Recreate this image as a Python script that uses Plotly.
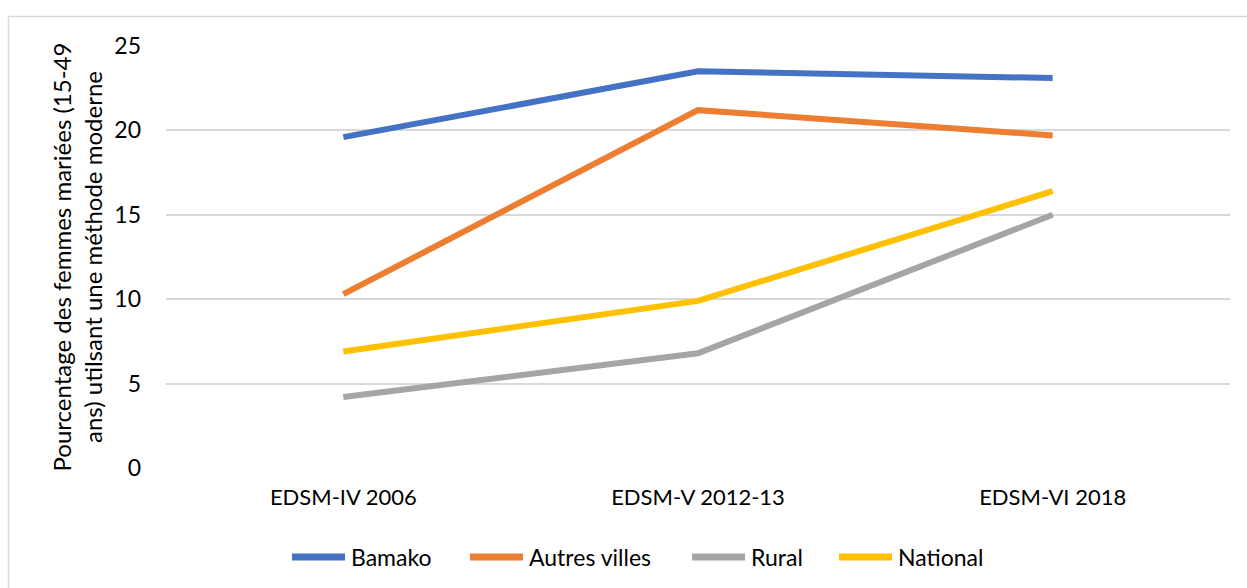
import plotly.graph_objects as go

categories = ["EDSM-IV 2006", "EDSM-V 2012-13", "EDSM-VI 2018"]
bamako = [19.6, 23.5, 23.1]
autres_villes = [10.3, 21.2, 19.7]
rural = [4.2, 6.8, 15.0]
national = [6.9, 9.9, 16.4]

series = [
    ("Bamako", bamako, "#4472C4"),
    ("Autres villes", autres_villes, "#ED7D31"),
    ("Rural", rural, "#A5A5A5"),
    ("National", national, "#FFC000"),
]

W, H = 1247, 588
ML, MR, MT, MB = 166, 17, 46, 120
PW, PH = W - ML - MR, H - MT - MB

def px_x(px):
    return (px - ML) / PW

def px_y(py):
    return (H - MB - py) / PH

fig = go.Figure()
for name, vals, color in series:
    fig.add_trace(go.Scatter(
        x=categories, y=vals, name=name, mode="lines",
        line=dict(color=color, width=6), showlegend=False,
    ))

font_family = "Lato, Carlito, Calibri, sans-serif"

# custom legend (long swatches like the reference)
legend_line_starts = [289, 467, 689, 836]
shapes = [dict(type="rect", xref="paper", yref="paper",
               x0=px_x(8.5), x1=px_x(W + 20), y0=px_y(H + 20), y1=px_y(16.5),
               line=dict(color="#D9D9D9", width=1.5), fillcolor="rgba(0,0,0,0)", layer="below")]
annotations = []
for (name, _, color), x0 in zip(series, legend_line_starts):
    shapes.append(dict(type="line", xref="paper", yref="paper",
                       x0=px_x(x0 + 3), x1=px_x(x0 + 56), y0=px_y(557), y1=px_y(557),
                       line=dict(color=color, width=7)))
    annotations.append(dict(xref="paper", yref="paper", x=px_x(x0 + 60), y=px_y(557),
                            xanchor="left", yanchor="middle", text=name, showarrow=False,
                            font=dict(size=23, family=font_family, color="#000000")))

fig.update_layout(
    width=W, height=H,
    margin=dict(l=ML, r=MR, t=MT, b=MB),
    paper_bgcolor="white", plot_bgcolor="white",
    font=dict(family=font_family, color="#000000", size=22),
    showlegend=False,
    xaxis=dict(
        type="category", showgrid=False, zeroline=False, showline=False,
        ticks="", tickfont=dict(size=22), range=[-0.5, 2.5],
        ticklabelstandoff=14,
    ),
    yaxis=dict(
        range=[0, 25], dtick=5, showgrid=True, gridcolor="#D9D9D9", gridwidth=1.5,
        zeroline=False, showline=False, ticks="", tickfont=dict(size=23),
        ticklabelstandoff=24,
        title=dict(text="Pourcentage des femmes mariées (15-49<br>ans) utilsant une méthode moderne",
                   font=dict(size=24), standoff=4),
    ),
    shapes=shapes,
    annotations=annotations,
)

fig.write_html("out.html", config={"displayModeBar": False},
               post_script="document.body.style.margin='0';document.body.style.overflow='hidden';")
